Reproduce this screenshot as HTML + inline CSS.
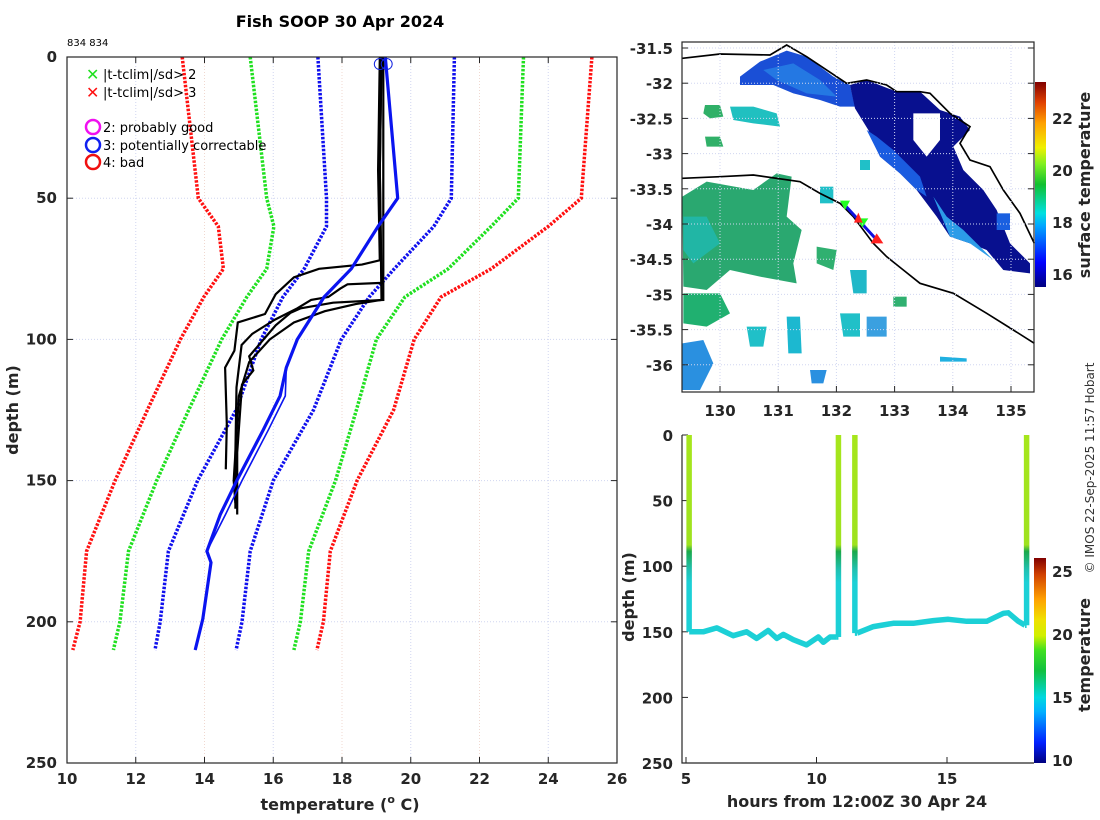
<!DOCTYPE html>
<html><head><meta charset="utf-8">
<style>
html,body{margin:0;padding:0;background:#fff;}
svg{display:block;font-family:"DejaVu Sans","Liberation Sans",sans-serif;}
.tk{font-weight:bold;font-size:15px;fill:#262626;}
.lb{font-weight:bold;font-size:16px;fill:#262626;}
</style></head>
<body>
<svg id="fig" width="1100" height="820" viewBox="0 0 1100 820" xmlns="http://www.w3.org/2000/svg">
<defs>
 <linearGradient id="jet" x1="0" y1="1" x2="0" y2="0">
  <stop offset="0" stop-color="#00007f"/><stop offset="0.12" stop-color="#0000ff"/>
  <stop offset="0.3" stop-color="#00a8ff"/><stop offset="0.36" stop-color="#00e0e0"/>
  <stop offset="0.5" stop-color="#10c030"/><stop offset="0.6" stop-color="#80f020"/>
  <stop offset="0.68" stop-color="#f0f000"/><stop offset="0.8" stop-color="#ffa000"/>
  <stop offset="0.9" stop-color="#e04000"/><stop offset="1" stop-color="#800000"/>
 </linearGradient>
 <linearGradient id="jet2" x1="0" y1="1" x2="0" y2="0">
  <stop offset="0" stop-color="#00007f"/><stop offset="0.1" stop-color="#0020ff"/>
  <stop offset="0.25" stop-color="#00b0ff"/><stop offset="0.32" stop-color="#00d8e0"/>
  <stop offset="0.45" stop-color="#10c040"/><stop offset="0.55" stop-color="#40e020"/>
  <stop offset="0.62" stop-color="#d0f000"/><stop offset="0.7" stop-color="#f0e000"/>
  <stop offset="0.8" stop-color="#ffa000"/><stop offset="0.92" stop-color="#d04000"/><stop offset="1" stop-color="#800000"/>
 </linearGradient>
 <linearGradient id="tg" gradientUnits="userSpaceOnUse" x1="0" y1="435" x2="0" y2="763">
  <stop offset="0" stop-color="#a6e61c"/><stop offset="0.335" stop-color="#9ee21e"/>
  <stop offset="0.355" stop-color="#1aa84a"/><stop offset="0.41" stop-color="#20c0b0"/>
  <stop offset="0.45" stop-color="#1cd0d6"/><stop offset="1" stop-color="#1cd0d6"/>
 </linearGradient>
</defs>

<text x="340" y="27" text-anchor="middle" font-size="16" font-weight="bold" fill="#000">Fish SOOP 30 Apr 2024</text>
<text x="67" y="46" font-size="10" fill="#000">834 834</text>

<g id="main"></g>
<g id="map"></g>
<g id="sect"></g>

<text transform="translate(1094,468) rotate(-90)" text-anchor="middle" font-size="12" fill="#333">© IMOS 22-Sep-2025 11:57 Hobart</text>
</svg>
<script>
// ---------- main profile chart data ----------
const climDepths=[0,50,60,75,85,100,125,150,175,200,210];
const redLeft=[13.35,13.82,14.4,14.55,13.98,13.3,12.34,11.4,10.57,10.38,10.17];
const greenLeft=[15.33,15.81,16.02,15.81,15.23,14.5,13.54,12.61,11.79,11.54,11.35];
const blueLeft=[17.3,17.55,17.55,16.9,16.28,15.65,14.92,13.8,12.95,12.71,12.56];
const blueRight=[21.27,21.18,20.67,19.52,18.79,17.98,17.17,16.0,15.33,15.09,14.92];
const greenRight=[23.28,23.13,22.34,21.09,19.83,19.0,18.42,17.81,17.03,16.79,16.6];
const redRight=[25.27,24.96,24.0,22.34,20.88,20.1,19.5,18.44,17.66,17.46,17.27];
const meanDepths=[0,50,60,75,85,100,110,120,132,150,162,175,179,199,210];
const meanTemp=[19.26,19.62,19.05,18.27,17.48,16.7,16.38,16.2,15.71,14.94,14.46,14.07,14.19,13.95,13.73];
const p1Depth=[0,40,72,73.5,75,78,84,91,94,104,110,130,146];
const p1Temp=[19.1,19.05,19.1,18.58,17.33,16.6,16.07,15.76,14.97,14.87,14.6,14.65,14.62];
const p2Depth=[0,40,80,80.5,82,85,86,89,93,98,102,117,140,160];
const p2Temp=[19.15,19.1,19.15,18.16,17.95,17.6,17.1,16.7,16.05,15.39,15.08,14.93,14.9,14.9];
const p3Depth=[0,40,86,87,89,90.6,95,100,106,111,116,140,162];
const p3Temp=[19.2,19.2,19.2,17.74,16.8,16.5,16.07,15.72,15.3,15.42,15.09,14.95,14.95];
const p4Depth=[0,40,86,87.5,90,94,100,108,120,150,158];
const p4Temp=[19.15,19.1,19.15,18.4,17.5,16.6,15.9,15.3,15.0,14.85,14.9];
const xTicks=[10,12,14,16,18,20,22,24,26];
const yTicks=[0,50,100,150,200,250];

// ---------- section data ----------
const leg1Hours=[5.15,5.66,6.18,6.81,7.32,7.71,8.15,8.48,8.73,9.11,9.62,10.07,10.26,10.52,10.77];
const leg1Depth=[150,150,147,153,150,155,149,155,152,156,160,154,158,154,154];
const leg2Hours=[11.56,12.18,12.94,13.71,14.48,15.05,15.76,16.52,17.16,17.35,17.73,17.99];
const leg2Depth=[151,146,143.5,143.5,141.5,140.5,142,142,135.9,135.5,142,145];
const dropHours=[5.12,10.84,11.47,18.05];
const hourTicks=[5,10,15];

const NS='http://www.w3.org/2000/svg';
function mk(tag,attrs,parent){const e=document.createElementNS(NS,tag);for(const k in attrs)e.setAttribute(k,attrs[k]);parent.appendChild(e);return e;}
const main=document.getElementById('main');
const xT=t=>67+(t-10)*34.375, yD=d=>57+d*2.824;

xTicks.forEach((t,i)=>{if(i>0&&i<xTicks.length-1){const g=mk('line',{x1:xT(t),x2:xT(t),y1:57,y2:763,stroke:i%2?'#d0d6f0':'#f0d8d0','stroke-width':1,'stroke-dasharray':'1,2'},main);}});
yTicks.forEach((d,i)=>{if(i>0&&i<yTicks.length-1){const g=mk('line',{x1:67,x2:617,y1:yD(d),y2:yD(d),stroke:'#d0d6f0','stroke-width':1,'stroke-dasharray':'1,2'},main);}});

function pathFrom(ts,ds){return ts.map((t,i)=>(i?'L':'M')+xT(t).toFixed(1)+','+yD(ds[i]).toFixed(1)).join('');}
[[redLeft,'#ff1010','clim-minus-3sd'],[greenLeft,'#20e020','clim-minus-2sd'],[blueLeft,'#1010ee','clim-minus-1sd'],[blueRight,'#1010ee','clim-plus-1sd'],[greenRight,'#20e020','clim-plus-2sd'],[redRight,'#ff1010','clim-plus-3sd']].forEach(s=>{
 const p=mk('path',{d:pathFrom(s[0],climDepths),fill:'none',stroke:s[1],'stroke-width':3.5,'stroke-dasharray':'2.5,1.5'},main);
 
 
});
[[p1Temp,p1Depth],[p2Temp,p2Depth],[p3Temp,p3Depth],[p4Temp,p4Depth]].forEach((s,i)=>{
 const p=mk('path',{d:pathFrom(s[0],s[1]),fill:'none',stroke:'#000','stroke-width':2.2},main);
 
 
});
{
 const p=mk('path',{d:pathFrom(meanTemp,meanDepths),fill:'none',stroke:'#0a14f0','stroke-width':3.2},main);
 
 
 const p2=mk('path',{d:pathFrom(meanTemp.map((t,i)=>meanDepths[i]>110&&meanDepths[i]<170?t+0.15:t),meanDepths),fill:'none',stroke:'#0a14f0','stroke-width':1.6},main);
 
 
}
[19.1,19.3].forEach(t=>{const c=mk('circle',{cx:xT(t),cy:yD(2.5),r:5.5,fill:'none',stroke:'#1020e0','stroke-width':1},main);});

{const r=mk('rect',{x:67,y:57,width:550,height:706,fill:'none',stroke:'#262626','stroke-width':1.2},main);}
xTicks.forEach(t=>{
 mk('line',{x1:xT(t),x2:xT(t),y1:763,y2:757,stroke:'#262626'},main);mk('line',{x1:xT(t),x2:xT(t),y1:57,y2:63,stroke:'#262626'},main);
 const tx=mk('text',{x:xT(t),y:784,'text-anchor':'middle',class:'tk'},main);tx.textContent=t;
 
});
yTicks.forEach(d=>{
 mk('line',{x1:67,x2:73,y1:yD(d),y2:yD(d),stroke:'#262626'},main);mk('line',{x1:617,x2:611,y1:yD(d),y2:yD(d),stroke:'#262626'},main);
 const tx=mk('text',{x:57,y:yD(d)+5,'text-anchor':'end',class:'tk'},main);tx.textContent=d;
 
});
main.insertAdjacentHTML('beforeend',`
<text x="340" y="810" text-anchor="middle" class="lb">temperature (<tspan font-size="11" dy="-7">o</tspan><tspan dy="7"> C)</tspan></text>
<text transform="translate(18,410) rotate(-90)" text-anchor="middle" class="lb">depth (m)</text>
<g font-size="13" fill="#000">
 <g><text x="86" y="80" fill="#20e020" font-weight="bold" font-size="16">✕</text><text x="103" y="79">|t-tclim|/sd&gt; 2</text></g>
 <g><text x="86" y="98" fill="#ff1010" font-weight="bold" font-size="16">✕</text><text x="103" y="97">|t-tclim|/sd&gt; 3</text></g>
 <g><circle cx="93" cy="127" r="7" fill="none" stroke="#f010f0" stroke-width="2.5"/><text x="103" y="132">2: probably good</text></g>
 <g><circle cx="93" cy="145" r="7" fill="none" stroke="#1020f0" stroke-width="2.5"/><text x="103" y="150">3: potentially correctable</text></g>
 <g><circle cx="93" cy="162" r="7" fill="none" stroke="#f01010" stroke-width="2.5"/><text x="103" y="167">4: bad</text></g>
</g>`);

// ---------- map ----------
const map=document.getElementById('map');
const lonX=l=>720+(l-130)*58.2, latY=a=>48+(-31.5-a)*70.4;
const mapLons=[130,131,132,133,134,135];
const mapLats=[-31.5,-32,-32.5,-33,-33.5,-34,-34.5,-35,-35.5,-36];
map.insertAdjacentHTML('beforeend',`
<g transform="translate(620,30) scale(0.33333)">
 <polygon fill="#1a4fd6" points="360,140 420,95 500,62 560,80 640,140 690,165 705,230 660,230 600,210 520,190 460,165 360,165"/>
 <polygon fill="#2a8ae8" opacity="0.7" points="430,120 520,100 600,150 650,200 560,190 470,150"/>
 <polygon fill="#08108f" points="690,165 740,150 830,185 900,185 960,240 1020,260 1050,300 1000,350 1030,420 1090,480 1130,540 1170,640 1230,700 1230,730 1150,720 1100,660 1050,640 990,620 950,560 890,480 840,430 780,380 745,300 705,235"/>
 <polygon fill="#1a5ce0" points="740,300 780,380 840,430 890,480 920,500 900,440 820,360 770,320"/>
 <polygon fill="#2c9ce8" points="940,500 990,620 1050,640 1120,690 1080,650 1030,600 980,560"/>
 <polygon fill="#ffffff" points="880,250 960,250 960,330 920,380 880,330"/>
 <polygon fill="#2aa870" points="187,500 260,455 400,480 470,430 515,440 500,560 545,600 520,700 530,760 420,740 330,720 260,780 190,770"/>
 <polygon fill="#1cc0c8" opacity="0.6" points="190,560 260,560 300,640 220,700 190,660"/>
 <polygon fill="#30b068" points="255,225 300,225 310,260 270,265 250,250"/>
 <polygon fill="#20c0c0" points="330,230 400,230 470,250 480,290 400,280 340,270"/>
 <polygon fill="#30b068" points="255,320 300,320 310,350 260,350"/>
 <polygon fill="#20b070" points="190,790 300,790 330,850 260,890 190,880"/>
 <polygon fill="#20c0c8" points="380,890 440,890 430,950 390,950"/>
 <polygon fill="#1cb8d0" points="500,860 540,860 545,970 505,970"/>
 <polygon fill="#2a90e0" points="187,940 250,930 280,1000 240,1080 187,1080"/>
 <polygon fill="#30b070" points="590,650 650,660 640,720 590,700"/>
 <polygon fill="#20b8c8" points="690,720 740,720 740,790 700,790"/>
 <polygon fill="#3aa0e0" points="740,860 800,860 800,920 740,920"/>
 <polygon fill="#20c0c8" points="660,850 720,850 720,920 670,920"/>
 <polygon fill="#2a90e0" points="570,1020 620,1020 610,1060 575,1060"/>
 <polygon fill="#30b070" points="820,800 860,800 860,830 820,830"/>
 <polygon fill="#20c0c8" points="600,470 640,470 640,520 600,520"/>
 <polygon fill="#20c0c8" points="720,390 750,390 750,420 720,420"/>
 <polygon fill="#1a60e0" points="1130,550 1170,550 1170,600 1130,600"/>
 <polygon fill="#20b0e0" points="960,980 1040,985 1040,995 960,995"/>
 <polyline fill="none" stroke="#000" stroke-width="5" points="187,85 300,72 450,75 500,45 560,80 680,160 740,150 800,165 830,185 900,185 930,190 990,250 1050,290 1020,340 1050,390 1110,410 1150,480 1200,550 1243,640"/>
 <polyline fill="none" stroke="#000" stroke-width="5" points="187,445 300,440 400,435 540,455 600,490 660,520 700,560 760,640 800,680 850,720 900,760 1000,790 1100,850 1180,900 1243,940"/>
 <line x1="665" y1="515" x2="775" y2="635" stroke="#1010e0" stroke-width="9"/>
 <polygon fill="#20ff20" points="660,512 690,512 675,540"/>
 <polygon fill="#20ff20" points="710,565 745,565 727,592"/>
 <polygon fill="#ff2020" points="715,548 702,578 728,578"/>
 <polygon fill="#ff2020" points="770,610 752,640 790,640"/>
</g>`);
mapLons.forEach(l=>{const g=mk('line',{x1:lonX(l),x2:lonX(l),y1:42,y2:392,stroke:'#d0d6f0','stroke-dasharray':'1,2'},map);
 mk('line',{x1:lonX(l),x2:lonX(l),y1:392,y2:386,stroke:'#262626'},map);
 const t=mk('text',{x:lonX(l),y:416,'text-anchor':'middle',class:'tk'},map);t.textContent=l;});
mapLats.forEach(a=>{const g=mk('line',{x1:682,x2:1034,y1:latY(a),y2:latY(a),stroke:'#d0d6f0','stroke-dasharray':'1,2'},map);
 mk('line',{x1:682,x2:688,y1:latY(a),y2:latY(a),stroke:'#262626'},map);mk('line',{x1:1034,x2:1028,y1:latY(a),y2:latY(a),stroke:'#262626'},map);
 const t=mk('text',{x:673,y:latY(a)+6,'text-anchor':'end',class:'tk','font-size':16},map);t.textContent=a;});
map.insertAdjacentHTML('beforeend',`
<rect x="682" y="42" width="352" height="350" fill="none" stroke="#262626" stroke-width="1.2"/>
<rect x="1035" y="82" width="11" height="205" fill="url(#jet)"/>
<g class="tk">
<text x="1052" y="124">22</text><text x="1052" y="176">20</text><text x="1052" y="228">18</text><text x="1052" y="280">16</text></g>
<text transform="translate(1090,185) rotate(-90)" text-anchor="middle" class="lb">surface temperature</text>`);

// ---------- section ----------
const sect=document.getElementById('sect');
const xH=h=>686+(h-5)*26.1, yS=d=>435+d*1.312;
const depthTicks=[0,50,100,150,200,250];
depthTicks.forEach(d=>{mk('line',{x1:682,x2:688,y1:yS(d),y2:yS(d),stroke:'#262626'},sect);
 const t=mk('text',{x:673,y:yS(d)+6,'text-anchor':'end',class:'tk','font-size':16},sect);t.textContent=d;});
hourTicks.forEach(h=>{mk('line',{x1:xH(h),x2:xH(h),y1:763,y2:757,stroke:'#262626'},sect);
 const t=mk('text',{x:xH(h),y:784,'text-anchor':'middle',class:'tk','font-size':16},sect);t.textContent=h;});
function secPath(hs,ds){return hs.map((h,i)=>(i?'L':'M')+xH(h).toFixed(1)+','+yS(ds[i]).toFixed(1)).join('');}
const drops=[[dropHours[0],0,leg1Depth[0]],[dropHours[1],leg1Depth[leg1Depth.length-1],0],[dropHours[2],0,leg2Depth[0]],[dropHours[3],leg2Depth[leg2Depth.length-1],0]];
drops.forEach((dr,i)=>{const p=mk('path',{d:`M${xH(dr[0])},${yS(dr[1])}L${xH(dr[0])},${yS(dr[2])}`,stroke:'url(#tg)','stroke-width':5.5,fill:'none'},sect);
 });
[[leg1Hours,leg1Depth,'leg-1-bottom-trace'],[leg2Hours,leg2Depth,'leg-2-bottom-trace']].forEach(s=>{
 const p=mk('path',{d:secPath(s[0],s[1]),stroke:'#1cd0d6','stroke-width':5.5,fill:'none','stroke-linejoin':'round'},sect);
 });
{const a=mk('path',{d:`M${xH(dropHours[0])},${yS(leg1Depth[0])}L${xH(leg1Hours[0])},${yS(leg1Depth[0])}M${xH(leg1Hours[14])},${yS(leg1Depth[14])}L${xH(dropHours[1])},${yS(leg1Depth[14])}M${xH(dropHours[2])},${yS(leg2Depth[0])}L${xH(leg2Hours[0])},${yS(leg2Depth[0])}M${xH(leg2Hours[11])},${yS(leg2Depth[11])}L${xH(dropHours[3])},${yS(leg2Depth[11])}`,stroke:'#1cd0d6','stroke-width':5.5,fill:'none'},sect);}
sect.insertAdjacentHTML('beforeend',`
<path d="M682,435L682,763L1034,763" fill="none" stroke="#262626" stroke-width="1.2"/>
<rect x="1034" y="558" width="12" height="205" fill="url(#jet2)"/>
<g class="tk">
<text x="1052" y="577">25</text><text x="1052" y="640">20</text><text x="1052" y="703">15</text><text x="1052" y="766">10</text></g>
<text transform="translate(1090,655) rotate(-90)" text-anchor="middle" class="lb" font-size="15">temperature</text>
<text transform="translate(634,597) rotate(-90)" text-anchor="middle" class="lb">depth (m)</text>
<text x="857" y="807" text-anchor="middle" class="lb" font-size="17">hours from 12:00Z 30 Apr 24</text>`);
</script>
</body></html>
